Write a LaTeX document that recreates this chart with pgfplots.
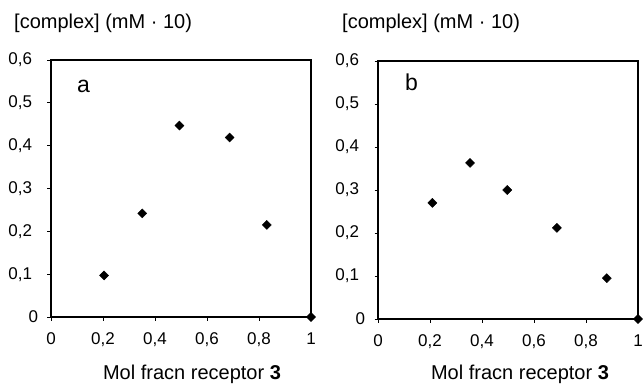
\documentclass[border=0pt]{standalone}
\usepackage{fontspec}
\setmainfont{Liberation Sans}
\usepackage{pgfplots}
\pgfplotsset{compat=1.18}
\begin{document}
\begin{tikzpicture}[x=1bp,y=1bp]
\pgfplotsset{
  panel/.style={
    scale only axis, width=260bp,
    xmin=0, xmax=1, ymin=0, ymax=0.6,
    xtick={0,0.2,0.4,0.6,0.8,1},
    ytick={0,0.1,0.2,0.3,0.4,0.5,0.6},
    yticklabels={{0\kern-6bp},{0,1},{0,2},{0,3},{0,4},{0,5},{0,6}},
    tick align=outside, major tick length=3.5bp,
    axis line style={line width=1.1pt},
    tick style={line width=0.8pt, black},
    xtick pos=bottom, ytick pos=left,
    /pgf/number format/use comma,
    /pgf/number format/assume math mode=true,
    tick label style={font=\fontsize{17bp}{19bp}\selectfont},
    xticklabel style={yshift=-9bp},
    yticklabel style={xshift=-12bp},
    clip=false,
  },
  pts/.style={only marks, mark=square*, mark size=3.2bp, mark options={rotate=45, fill=black, draw=black}},
}
\begin{axis}[panel, height=257bp, at={(0bp,0bp)}, anchor=south west]
\addplot[pts] coordinates {(0.204,0.097) (0.351,0.242) (0.494,0.447) (0.687,0.419) (0.830,0.215) (1,0)};
\end{axis}
\node[anchor=base west, inner sep=0pt, font=\fontsize{20bp}{22bp}\selectfont] at (-37,289) {[complex] (mM · 10)};
\node[anchor=base west, inner sep=0pt, font=\fontsize{23bp}{25bp}\selectfont] at (26,225) {a};
\node[font=\fontsize{20bp}{22bp}\selectfont] at (141,-57) {Mol fracn receptor \textbf{3}};

\begin{axis}[panel, height=258bp, at={(327bp,-2bp)}, anchor=south west]
\addplot[pts] coordinates {(0.209,0.270) (0.354,0.363) (0.497,0.300) (0.688,0.212) (0.880,0.095) (1,0)};
\end{axis}
\node[anchor=base west, inner sep=0pt, font=\fontsize{20bp}{22bp}\selectfont] at (291,289) {[complex] (mM · 10)};
\node[anchor=base west, inner sep=0pt, font=\fontsize{23bp}{25bp}\selectfont] at (354,227) {b};
\node[font=\fontsize{20bp}{22bp}\selectfont] at (469,-57) {Mol fracn receptor \textbf{3}};

\pgfresetboundingbox
\path[use as bounding box] (-51,-68) rectangle (593,317);
\end{tikzpicture}
\end{document}
